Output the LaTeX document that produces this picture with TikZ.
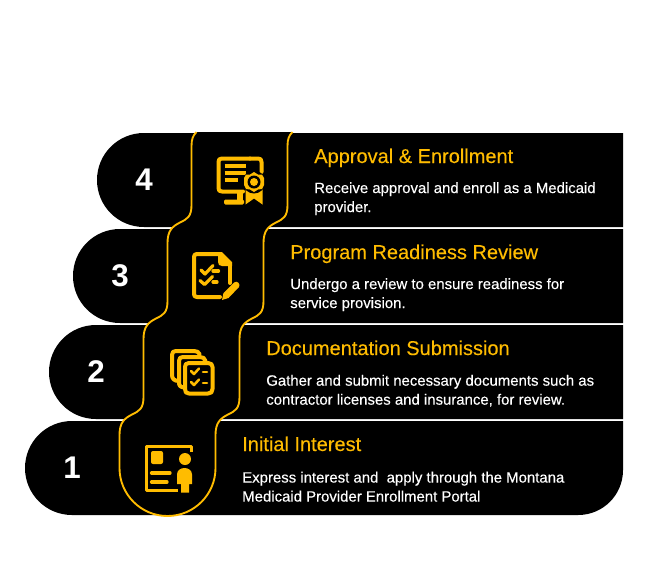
\documentclass[tikz,border=0pt]{standalone}
\usepackage{fontspec}
\setmainfont{Liberation Sans}
\newfontfamily\medfont[FakeBold=0.25]{Liberation Sans}
\definecolor{gold}{HTML}{FFBC00}
\tikzset{
  x=0.75pt,y=-0.75pt,
  ttl/.style={anchor=base west,inner sep=0pt,text=gold,font=\medfont\fontsize{15pt}{17pt}\selectfont},
  body/.style={anchor=west,inner sep=0pt,align=left,text=white,font=\medfont\fontsize{11.2pt}{14.25pt}\selectfont},
  num/.style={anchor=center,inner sep=0pt,text=white,font=\fontsize{23.5pt}{24pt}\bfseries\selectfont},
  ico/.style={draw=gold,line width=3pt,line cap=round,line join=round},
  icothin/.style={draw=gold,line width=2.4pt,line cap=round,line join=round},
  band/.style={line width=1.4pt,draw=gold}
}
\begin{document}
\begin{tikzpicture}
\useasboundingbox (0,0) rectangle (648,565);
\fill[white] (0,0) rectangle (648,565);
% bars
\foreach \xx/\yy in {97/133,73/229,49/325}{
  \fill[black] (623,\yy) -- ({\xx+47},\yy)
    .. controls ({\xx+21},\yy) and (\xx,{\yy+21}) .. (\xx,{\yy+47})
    .. controls (\xx,{\yy+73}) and ({\xx+21},{\yy+94}) .. ({\xx+47},{\yy+94})
    -- (623,{\yy+94}) -- cycle;
}
\fill[black] (623,421) -- (72,421)
    .. controls (46,421) and (25,442) .. (25,468)
    .. controls (25,494) and (46,515) .. (72,515)
    -- (578,515) .. controls (603,515) and (623,495) .. (623,470) -- cycle;
% band
\path[fill=black]
  (196.5,132) .. controls (193,135.5) and (191.5,139) .. (191.5,146) -- (191.5,205)
  .. controls (191.5,217) and (187,219) .. (180,222.5) .. controls (172,226.5) and (167.5,231) .. (167.5,243)
  -- (167.5,301)
  .. controls (167.5,313) and (163,315) .. (156,318.5) .. controls (148,322.5) and (143.5,327) .. (143.5,339)
  -- (143.5,397)
  .. controls (143.5,409) and (139,411) .. (132,414.5) .. controls (124,418.5) and (119.5,423) .. (119.5,435)
  -- (119.5,468) .. controls (119.5,494.5) and (141,516) .. (167.5,516)
  .. controls (194,516) and (215.5,494.5) .. (215.5,468) -- (215.5,435)
  .. controls (215.5,423) and (220,418.5) .. (228,414.5) .. controls (235,411) and (239.5,409) .. (239.5,397)
  -- (239.5,339)
  .. controls (239.5,327) and (244,322.5) .. (252,318.5) .. controls (259,315) and (263.5,313) .. (263.5,301)
  -- (263.5,243)
  .. controls (263.5,231) and (268,226.5) .. (276,222.5) .. controls (283,219) and (287.5,217) .. (287.5,205)
  -- (287.5,146) .. controls (287.5,139) and (289,135.5) .. (292.5,132) -- cycle;
\draw[band]
  (196.5,132) .. controls (193,135.5) and (191.5,139) .. (191.5,146) -- (191.5,205)
  .. controls (191.5,217) and (187,219) .. (180,222.5) .. controls (172,226.5) and (167.5,231) .. (167.5,243)
  -- (167.5,301)
  .. controls (167.5,313) and (163,315) .. (156,318.5) .. controls (148,322.5) and (143.5,327) .. (143.5,339)
  -- (143.5,397)
  .. controls (143.5,409) and (139,411) .. (132,414.5) .. controls (124,418.5) and (119.5,423) .. (119.5,435)
  -- (119.5,468) .. controls (119.5,494.5) and (141,516) .. (167.5,516)
  .. controls (194,516) and (215.5,494.5) .. (215.5,468) -- (215.5,435)
  .. controls (215.5,423) and (220,418.5) .. (228,414.5) .. controls (235,411) and (239.5,409) .. (239.5,397)
  -- (239.5,339)
  .. controls (239.5,327) and (244,322.5) .. (252,318.5) .. controls (259,315) and (263.5,313) .. (263.5,301)
  -- (263.5,243)
  .. controls (263.5,231) and (268,226.5) .. (276,222.5) .. controls (283,219) and (287.5,217) .. (287.5,205)
  -- (287.5,146) .. controls (287.5,139) and (289,135.5) .. (292.5,132);
% numbers
\node[num] (n4) at (144,180) {4};
\node[num] (n3) at (120,276) {3};
\node[num] (n2) at (96,372) {2};
\node[num] (n1) at (72,468) {1};
% titles
\node[ttl] (t4) at (314,163) {Approval \& Enrollment};
\node[ttl] (t3) at (290,259) {Program Readiness Review};
\node[ttl] (t2) at (266,355) {Documentation Submission};
\node[ttl] (t1) at (242,451) {Initial Interest};
% bodies
\node[body] (b4) at (314,198.7) {Receive approval and enroll as a Medicaid\\provider.};
\node[body] (b3) at (290,294.7) {Undergo a review to ensure readiness for\\service provision.};
\node[body] (b2) at (266,390.7) {Gather and submit necessary documents such as\\contractor licenses and insurance, for review.};
\node[body] (b1) at (242,486.7) {Express interest and\ \ apply through the Montana\\Medicaid Provider Enrollment Portal};
% icon 4: monitor with badge
\draw[ico] (250,158.5) -- (222,158.5) .. controls (219.5,158.5) and (218.5,159.5) .. (218.5,162) -- (218.5,188)
  .. controls (218.5,190.5) and (219.5,191.5) .. (222,191.5) -- (243,191.5);
\draw[ico] (250,158.5) -- (258,158.5) .. controls (260.5,158.5) and (261.5,159.5) .. (261.5,162) -- (261.5,172);
\fill[gold] (237,191) rectangle (243,201);
\fill[gold,rounded corners=1pt] (224,199.5) rectangle (244,204.5);
\foreach \yy/\xe in {166/246,173/246,180/238}{ \draw[icothin,line cap=butt] (224.5,\yy) -- (\xe,\yy); }
\fill[gold] (245.5,188) -- (245.5,204.5) -- (254,198.5) -- (262.5,204.5) -- (262.5,188) -- cycle;
\fill[black] (254,182) circle (11.5);
\fill[gold] (254,172) -- (258,174.5) -- (262,174.5) -- (264,178) -- (264,185) -- (262,189) -- (258,189.5) -- (254,192) -- (250,189.5) -- (246,189) -- (244,185) -- (244,178) -- (246,174.5) -- (250,174.5) -- cycle;
\fill[black] (254,182) circle (6.5);
\fill[gold] (254,182) circle (4);
% icon 3: document with pencil
\draw[ico] (219,254) -- (197,254) .. controls (195,254) and (194,255) .. (194,257) -- (194,294)
  .. controls (194,296) and (195,297) .. (197,297) -- (220,297);
\draw[ico] (230,265) -- (230,283);
\fill[gold] (218,252) -- (222,252) -- (232,262) -- (232,266) -- (222,266) .. controls (219.5,266) and (218,264.5) .. (218,262) -- cycle;
\draw[icothin] (201,270) -- (205,274) -- (213,265.5);
\draw[icothin] (200,280.5) -- (204.5,284.5) -- (212.5,276.5);
\draw[icothin] (213,271) -- (218.5,271);
\draw[icothin] (213,282) -- (217,282);
\fill[gold] (222,300) -- (223.5,293) -- (234,282.5) .. controls (237,280) and (241,284) .. (239,287) -- (228.5,298) -- cycle;
% icon 2: stack of sheets
\draw[ico] (179,381) .. controls (174,381) and (172,378.5) .. (172,375) -- (172,355)
  .. controls (172,352) and (173.5,351) .. (176,351) -- (194,351) .. controls (197,351) and (198.5,352) .. (199.5,354);
\draw[ico] (184,387.5) .. controls (180,387) and (179,385.5) .. (179,382) -- (179,361)
  .. controls (179,358) and (180.5,357) .. (183,357) -- (200,357) .. controls (203,357) and (204.5,358) .. (205.5,361);
\draw[ico] (189,363) -- (208,363) .. controls (211,363) and (212.5,364.5) .. (212.5,367) -- (212.5,389)
  .. controls (212.5,392) and (211,393.5) .. (208,393.5) -- (189,393.5) .. controls (186,393.5) and (185,392) .. (185,389) -- (185,367)
  .. controls (185,364.5) and (186,363) .. (189,363) -- cycle;
\draw[icothin,line width=1.9pt] (191,371) -- (194,374) -- (199,368.5);
\draw[icothin,line width=1.9pt] (191,382) -- (194,385) -- (199,379.5);
\draw[icothin,line width=1.9pt] (203,372) -- (207,372);
\draw[icothin,line width=1.9pt] (203,383) -- (207,383);
% icon 1: profile card
\draw[ico,line cap=butt,line width=2.7pt] (191.5,452) -- (191.5,446.5) -- (146.5,446.5) -- (146.5,490.5) -- (178,490.5);
\fill[gold,rounded corners=1.5pt] (151,451) rectangle (163,464);
\draw[icothin] (151.5,473) -- (170,473);
\draw[icothin] (151.5,482) -- (167,482);
\fill[gold] (185,459) circle (6);
\fill[gold] (177,484) -- (177,474.5) .. controls (177,470) and (181,468) .. (184.5,468) .. controls (188,468) and (192,470) .. (192,474.5) -- (192,484) -- (189,484) -- (189,492.5) -- (181,492.5) -- (181,484) -- cycle;
\end{tikzpicture}
\end{document}
